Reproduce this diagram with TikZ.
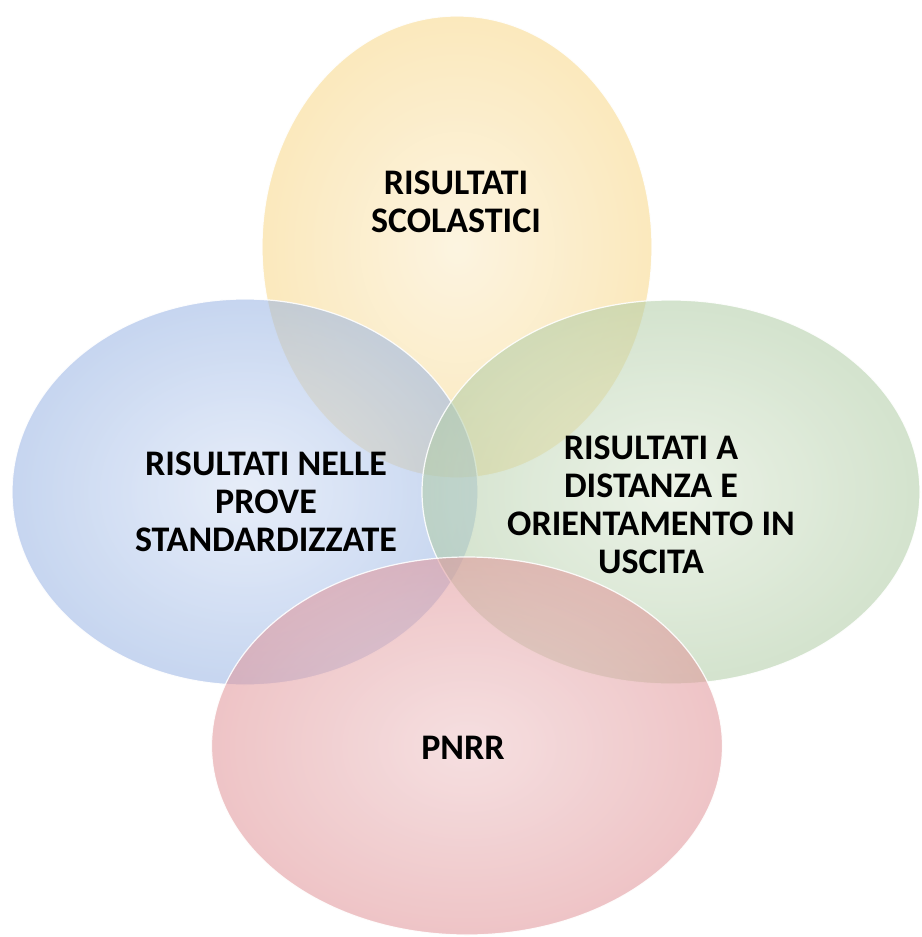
\documentclass[tikz,border=0pt]{standalone}
\usepackage{fontspec}
\setmainfont{Carlito}
\usetikzlibrary{shapes.geometric}
\definecolor{yelin}{RGB}{251,236,200}
\definecolor{yelout}{RGB}{248,215,135}
\definecolor{bluin}{RGB}{212,224,245}
\definecolor{bluout}{RGB}{152,180,228}
\definecolor{grein}{RGB}{220,233,212}
\definecolor{greout}{RGB}{176,204,165}
\definecolor{redin}{RGB}{238,198,200}
\definecolor{redout}{RGB}{225,148,152}
\tikzset{
    petal/.style = {ellipse, draw=white, line width=1.2pt, inner sep=0pt, fill opacity=0.55, draw opacity=0.9, shading=radial},
    petaly/.style = {petal, inner color=yelin, outer color=yelout},
    petalb/.style = {petal, inner color=bluin, outer color=bluout},
    petalg/.style = {petal, inner color=grein, outer color=greout},
    petalr/.style = {petal, inner color=redin, outer color=redout},
    txt/.style = {align=center, text=black, font=\bfseries\fontsize{36}{38}\selectfont}
}

\begin{document}
\begin{tikzpicture}[x=1pt,y=-1pt]
\fill[white] (0,0) rectangle (921,937);
\node[petaly, minimum width=390pt, minimum height=462pt] at (457,247) (scol) {};
\node[petalb, minimum width=466pt, minimum height=386pt] at (245,492) (prove) {};
\node[petalg, minimum width=498pt, minimum height=384pt] at (671,492) (dist) {};
\node[petalr, minimum width=511pt, minimum height=378pt] at (467,746) (pnrr) {};
%
\node[txt] at (456,202) (tscol) {RISULTATI\\SCOLASTICI};
\node[txt] at (266,502) (tprove) {RISULTATI NELLE\\PROVE\\STANDARDIZZATE};
\node[txt] at (651,505) (tdist) {RISULTATI A\\DISTANZA E\\ORIENTAMENTO IN\\USCITA};
\node[txt] at (463,748) (tpnrr) {PNRR};

\end{tikzpicture}
\end{document}
